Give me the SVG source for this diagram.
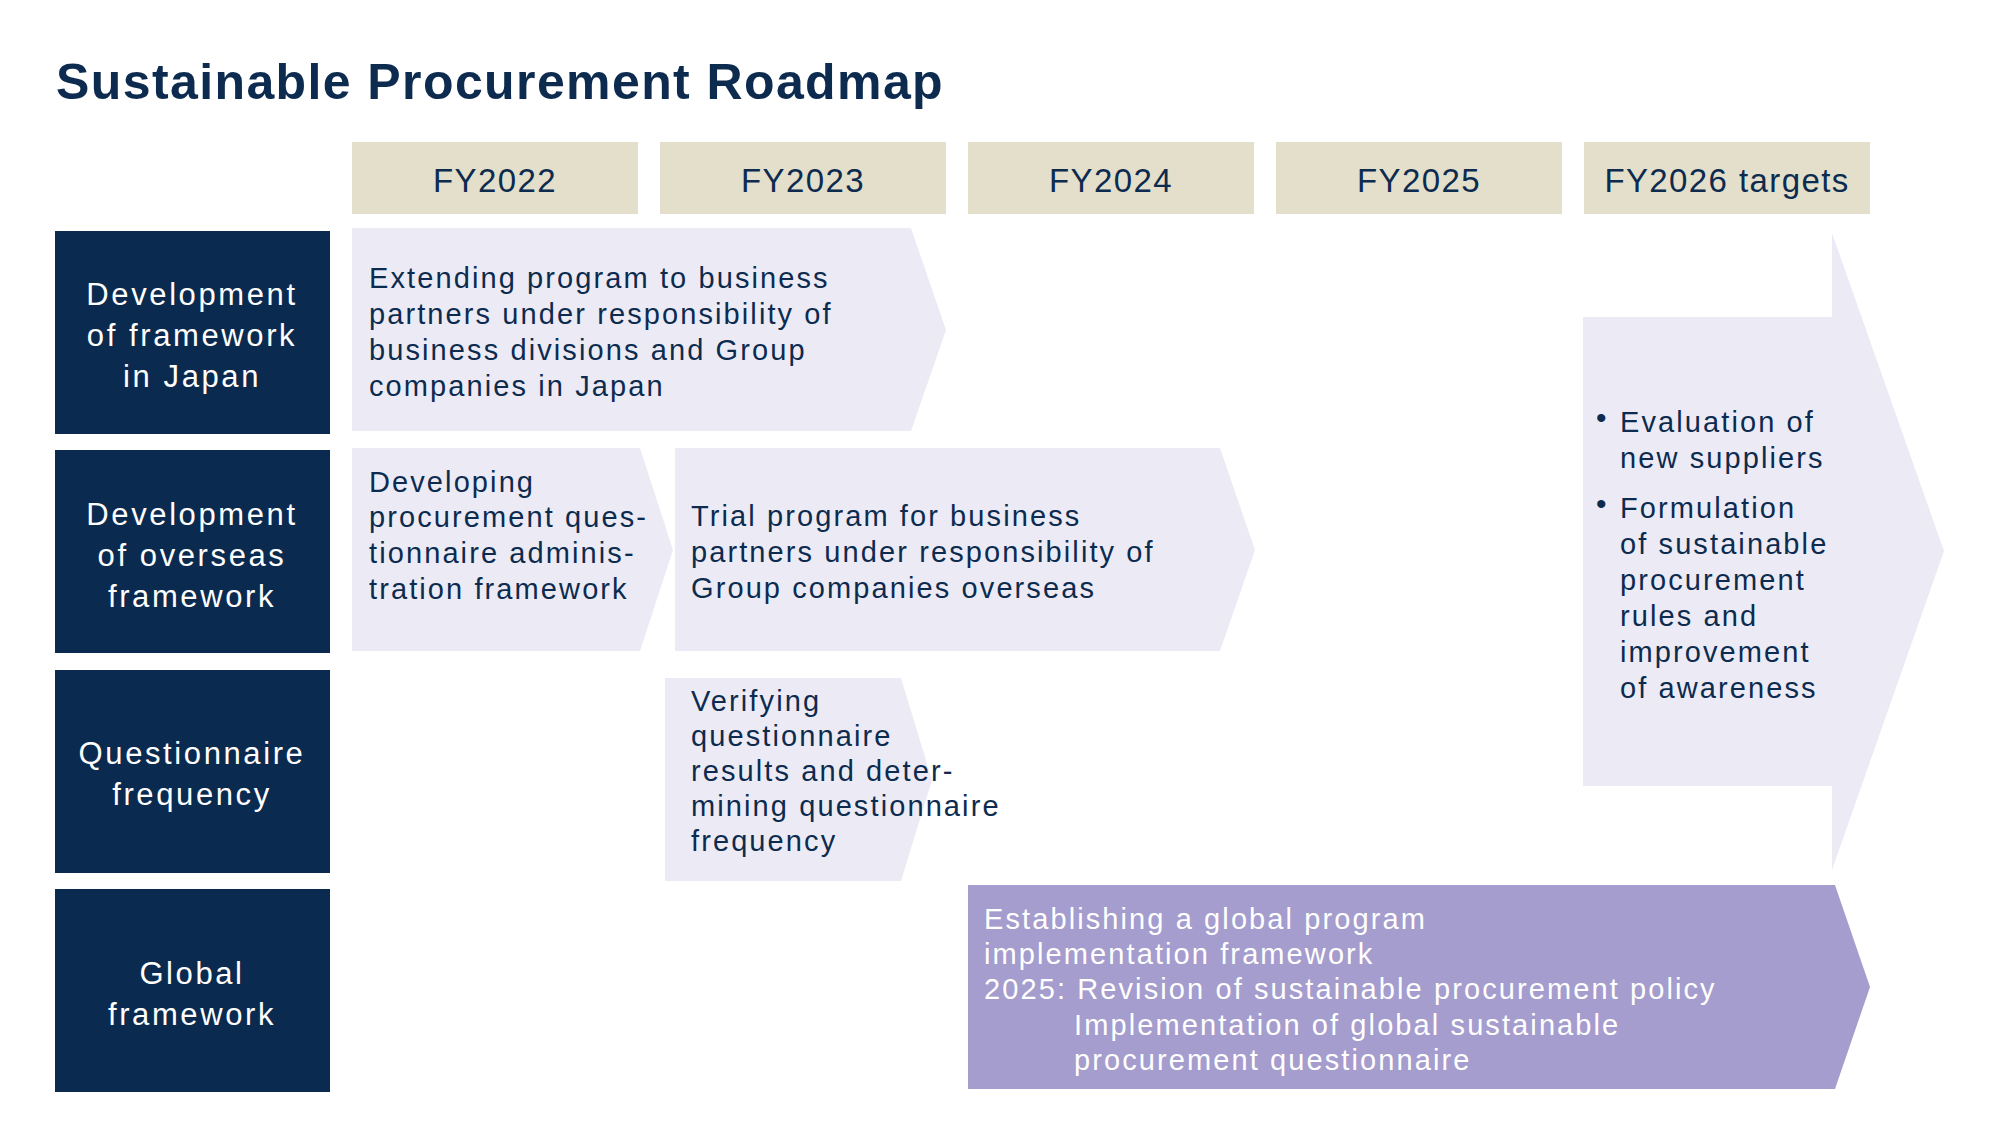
<svg xmlns="http://www.w3.org/2000/svg" width="2000" height="1146" viewBox="0 0 2000 1146">
<style>
text{font-family:"Liberation Sans",Arial,sans-serif}
.title{font-size:50px;font-weight:bold;fill:#0d2b4f;letter-spacing:1.4px}
.hdrbox{fill:#e3dfcb}
.hdr{font-size:33px;fill:#0d2b4f;text-anchor:middle;letter-spacing:1.4px}
.lblbox{fill:#0b2a4f}
.lbl{font-size:31px;fill:#ffffff;text-anchor:middle;letter-spacing:2.6px}
.arr{fill:#ecebf5}
.arrp{fill:#a59dcd}
.body{font-size:29px;fill:#0d2b4f;letter-spacing:2.1px}
.wbody{font-size:29px;fill:#ffffff;letter-spacing:2.1px}
.bul{font-size:30px;fill:#0d2b4f}
</style>
<rect width="2000" height="1146" fill="#ffffff"/>
<text class="title" x="56" y="99">Sustainable Procurement Roadmap</text>

<g id="hdr-fy2022"><rect class="hdrbox" x="352" y="142" width="286" height="72"/><text class="hdr" x="495" y="192">FY2022</text></g>
<g id="hdr-fy2023"><rect class="hdrbox" x="660" y="142" width="286" height="72"/><text class="hdr" x="803" y="192">FY2023</text></g>
<g id="hdr-fy2024"><rect class="hdrbox" x="968" y="142" width="286" height="72"/><text class="hdr" x="1111" y="192">FY2024</text></g>
<g id="hdr-fy2025"><rect class="hdrbox" x="1276" y="142" width="286" height="72"/><text class="hdr" x="1419" y="192">FY2025</text></g>
<g id="hdr-fy2026"><rect class="hdrbox" x="1584" y="142" width="286" height="72"/><text class="hdr" x="1727" y="192">FY2026 targets</text></g>

<g id="row-japan"><rect class="lblbox" x="55" y="231" width="275" height="203"/>
<text class="lbl" x="192" y="305">Development</text><text class="lbl" x="192" y="346">of framework</text><text class="lbl" x="192" y="387">in Japan</text></g>
<g id="row-overseas"><rect class="lblbox" x="55" y="450" width="275" height="203"/>
<text class="lbl" x="192" y="525">Development</text><text class="lbl" x="192" y="566">of overseas</text><text class="lbl" x="192" y="607">framework</text></g>
<g id="row-frequency"><rect class="lblbox" x="55" y="670" width="275" height="203"/>
<text class="lbl" x="192" y="764">Questionnaire</text><text class="lbl" x="192" y="805">frequency</text></g>
<g id="row-global"><rect class="lblbox" x="55" y="889" width="275" height="203"/>
<text class="lbl" x="192" y="984">Global</text><text class="lbl" x="192" y="1025">framework</text></g>

<g id="target-fy2026">
<polygon class="arr" points="1583,317 1832,317 1832,233 1944,551 1832,870 1832,786 1583,786"/>
<text class="bul" x="1596" y="428">•</text>
<text class="body" x="1620" y="432">Evaluation of</text>
<text class="body" x="1620" y="468">new suppliers</text>
<text class="bul" x="1596" y="514">•</text>
<text class="body" x="1620" y="518">Formulation</text>
<text class="body" x="1620" y="554">of sustainable</text>
<text class="body" x="1620" y="590">procurement</text>
<text class="body" x="1620" y="626">rules and</text>
<text class="body" x="1620" y="662">improvement</text>
<text class="body" x="1620" y="698">of awareness</text>
</g>

<g id="task-japan-extend">
<polygon class="arr" points="352,228 911,228 946,330 911,431 352,431"/>
<text class="body" x="369" y="288">Extending program to business</text>
<text class="body" x="369" y="324">partners under responsibility of</text>
<text class="body" x="369" y="360">business divisions and Group</text>
<text class="body" x="369" y="396">companies in Japan</text>
</g>

<g id="task-overseas-develop">
<polygon class="arr" points="352,448 640,448 673,550 640,651 352,651"/>
<text class="body" x="369" y="492">Developing</text>
<text class="body" x="369" y="527">procurement ques-</text>
<text class="body" x="369" y="563">tionnaire adminis-</text>
<text class="body" x="369" y="599">tration framework</text>
</g>

<g id="task-overseas-trial">
<polygon class="arr" points="675,448 1220,448 1255,550 1220,651 675,651"/>
<text class="body" x="691" y="526">Trial program for business</text>
<text class="body" x="691" y="562">partners under responsibility of</text>
<text class="body" x="691" y="598">Group companies overseas</text>
</g>

<g id="task-frequency">
<polygon class="arr" points="665,678 901,678 932,780 901,881 665,881"/>
<text class="body" x="691" y="711">Verifying</text>
<text class="body" x="691" y="746">questionnaire</text>
<text class="body" x="691" y="781">results and deter-</text>
<text class="body" x="691" y="816">mining questionnaire</text>
<text class="body" x="691" y="851">frequency</text>
</g>

<g id="task-global">
<polygon class="arrp" points="968,885 1835,885 1870,987 1835,1089 968,1089"/>
<text class="wbody" x="984" y="929">Establishing a global program</text>
<text class="wbody" x="984" y="964">implementation framework</text>
<text class="wbody" x="984" y="999">2025: Revision of sustainable procurement policy</text>
<text class="wbody" x="1074" y="1035">Implementation of global sustainable</text>
<text class="wbody" x="1074" y="1070">procurement questionnaire</text>
</g>

<g id="connectors"/>
</svg>
